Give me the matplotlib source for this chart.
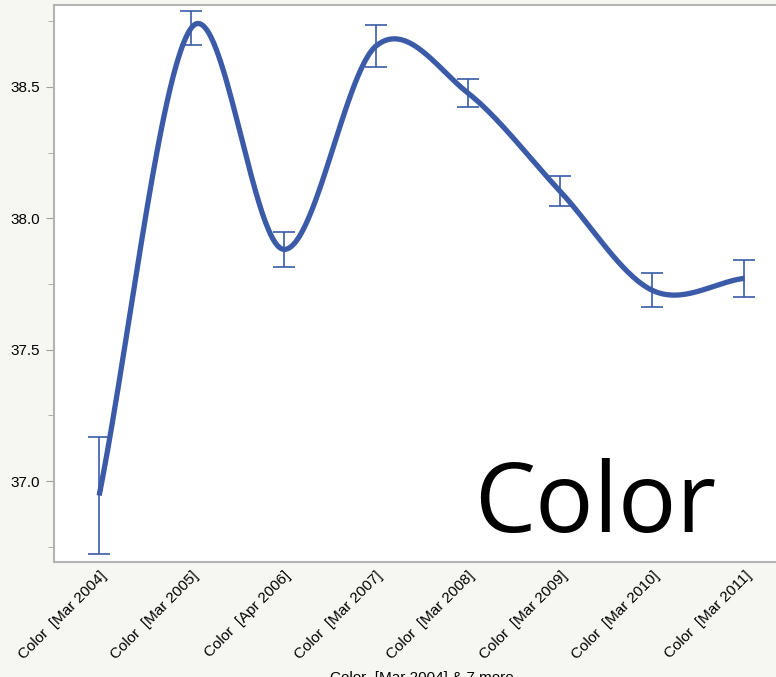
import numpy as np
import matplotlib.pyplot as plt
from matplotlib.ticker import MultipleLocator

# srednie i polowa przedzialu bledu dla kazdego pomiaru
kategorie = ["Color  [Mar 2004]", "Color  [Mar 2005]", "Color  [Apr 2006]", "Color  [Mar 2007]",
             "Color  [Mar 2008]", "Color  [Mar 2009]", "Color  [Mar 2010]", "Color  [Mar 2011]"]
srednie = [36.945, 38.725, 37.882, 38.655, 38.477, 38.103, 37.726, 37.772]
bledy = [0.221, 0.065, 0.067, 0.080, 0.053, 0.057, 0.065, 0.070]


def krzywa_hermite(x, y, xx):
    # gladka krzywa przez punkty, styczne Catmull-Rom
    x = np.asarray(x, float)
    y = np.asarray(y, float)
    n = len(x)
    m = np.zeros(n)
    m[1:-1] = (y[2:] - y[:-2]) / (x[2:] - x[:-2])
    m[0] = (y[1] - y[0]) / (x[1] - x[0])
    m[-1] = (y[-1] - y[-2]) / (x[-1] - x[-2])
    idx = np.clip(np.searchsorted(x, xx) - 1, 0, n - 2)
    h = x[idx + 1] - x[idx]
    t = (xx - x[idx]) / h
    h00 = 2 * t**3 - 3 * t**2 + 1
    h10 = t**3 - 2 * t**2 + t
    h01 = -2 * t**3 + 3 * t**2
    h11 = t**3 - t**2
    return h00 * y[idx] + h10 * h * m[idx] + h01 * y[idx + 1] + h11 * h * m[idx + 1]


tlo = '#f6f6f2'
kolor = '#3b5ba9'

fig = plt.figure(figsize=(7.76, 6.77), dpi=100, facecolor=tlo)
ax = fig.add_axes([0.0696, 0.1699, 0.948, 0.8227])
ax.set_facecolor('white')

pozycje = np.arange(len(kategorie))
xx = np.linspace(0, len(kategorie) - 1, 400)
ax.plot(xx, krzywa_hermite(pozycje, srednie, xx), color=kolor, lw=3.8,
        solid_capstyle='butt', zorder=3)
ax.errorbar(pozycje, srednie, yerr=bledy, fmt='none', ecolor=kolor,
            elinewidth=1.2, capsize=8, capthick=1.2, zorder=2)

ax.text(0.735, 0.053, "Color", transform=ax.transAxes, fontsize=70,
        family='Open Sans', ha='center', va='baseline', color='black')

ax.set_xlim(-0.49, 7.49)
ax.set_ylim(36.692, 38.812)
ax.yaxis.set_major_locator(MultipleLocator(0.5))
ax.yaxis.set_minor_locator(MultipleLocator(0.25))
ax.yaxis.set_major_formatter(plt.FormatStrFormatter('%.1f'))
ax.set_xticks(pozycje)
ax.set_xticklabels(kategorie, rotation=45, ha='right', va='top',
                   rotation_mode='anchor', family='Liberation Sans', fontsize=11)
ax.tick_params(axis='x', length=0, pad=5)
ax.tick_params(axis='y', which='major', length=6, color='#a0a0a0', labelsize=11, pad=4)
ax.tick_params(axis='y', which='minor', length=4, color='#a0a0a0')
for t in ax.get_yticklabels():
    t.set_family('Liberation Sans')
for s in ax.spines.values():
    s.set_color('#b4b4b4')
    s.set_linewidth(1.5)

ax.set_xlabel("Color  [Mar 2004] & 7 more", family='Liberation Sans', fontsize=11,
              labelpad=6)

fig.savefig('out.png', dpi=100, facecolor=tlo)
